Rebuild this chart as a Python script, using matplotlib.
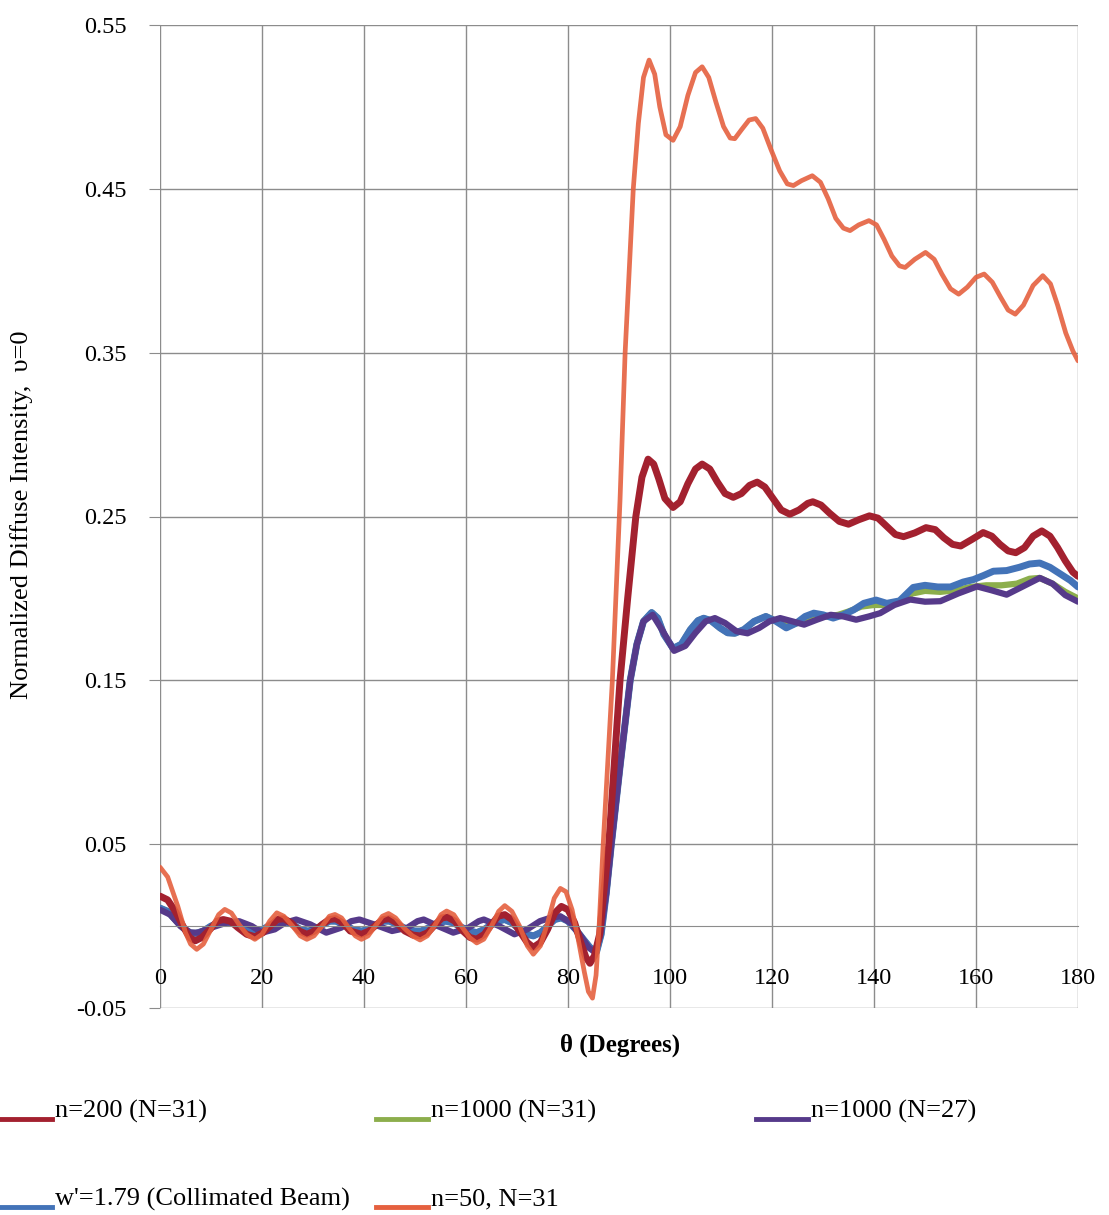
import matplotlib
matplotlib.use("Agg")
import matplotlib.pyplot as plt
from matplotlib.lines import Line2D

plt.rcParams['font.family'] = ['Liberation Serif', 'DejaVu Serif']

# theta (deg) / intensity
theta_n50 = [0, 1.5, 3.5, 5, 6, 7.2, 8.5, 10, 11.5, 12.7, 14, 15.5, 17, 18.6, 20, 21.5, 22.9, 24.3, 26, 27.5,
             28.8, 30.2, 31.8, 33.2, 34.3, 35.6, 37, 38.3, 39.5, 40.8, 42.2, 43.6, 44.8, 46.2, 47.8, 49.5, 51,
             52.4, 53.8, 55.1, 56.2, 57.6, 59.1, 60.7, 62.1, 63.5, 65, 66.4, 67.6, 69, 70.5, 72, 73.2, 74.6, 76,
             77.3, 78.5, 79.6, 80.8, 82, 83.2, 84, 84.8, 85.5, 86.1, 86.9, 88.7, 90.2, 91.2, 92.8, 93.8, 94.8,
             95.9, 97, 98, 99.2, 100.6, 102, 103.5, 105, 106.3, 107.6, 109, 110.5, 111.8, 112.7, 114, 115.5,
             116.8, 118.2, 119.8, 121.5, 123, 124.2, 125.8, 127.9, 129.5, 131, 132.5, 134, 135.3, 137, 139,
             140.5, 142, 143.5, 145, 146.1, 148, 150.1, 151.8, 153.3, 155, 156.6, 158.3, 160, 161.6, 163.2,
             164.8, 166.3, 167.7, 169.3, 171.2, 173.1, 174.6, 176, 177.6, 179, 180]
val_n50 = [0.036, 0.030, 0.012, -0.004, -0.011, -0.0142, -0.011, -0.002, 0.007, 0.0102, 0.008, 0.001, -0.005,
           -0.0081, -0.005, 0.003, 0.0081, 0.006, 0.000, -0.006, -0.0081, -0.006, 0.000, 0.006, 0.0071, 0.005,
           -0.001, -0.006, -0.0081, -0.006, 0.000, 0.006, 0.0077, 0.005, -0.001, -0.006, -0.0085, -0.006, 0.000,
           0.007, 0.0092, 0.007, 0.000, -0.007, -0.0103, -0.008, 0.000, 0.009, 0.0125, 0.009, 0.000, -0.012,
           -0.0172, -0.012, 0.002, 0.017, 0.023, 0.021, 0.010, -0.008, -0.028, -0.040, -0.044, -0.030, 0.000,
           0.05, 0.15, 0.26, 0.35, 0.45, 0.49, 0.518, 0.5286, 0.52, 0.50, 0.483, 0.4796, 0.488, 0.507, 0.521,
           0.5245, 0.518, 0.503, 0.488, 0.481, 0.4806, 0.486, 0.492, 0.4929, 0.487, 0.474, 0.461, 0.453, 0.452,
           0.455, 0.458, 0.454, 0.444, 0.432, 0.426, 0.4245, 0.428, 0.4306, 0.428, 0.419, 0.409, 0.403, 0.402,
           0.407, 0.4112, 0.407, 0.398, 0.389, 0.3857, 0.390, 0.396, 0.398, 0.393, 0.384, 0.376, 0.3735, 0.379,
           0.391, 0.397, 0.392, 0.379, 0.362, 0.351, 0.345]

theta_n200 = [0, 1.5, 3, 4.5, 5.8, 6.9, 8.2, 9.8, 11.2, 12.4, 13.8, 15.3, 17, 18.6, 20.2, 21.6, 23, 24.3, 25.7,
              27.3, 28.8, 30.3, 31.8, 33.2, 34.4, 35.8, 37.3, 39.5, 41, 42.5, 43.8, 45, 46.4, 48, 49.6, 51, 52.5,
              54, 55.3, 56.4, 57.8, 59.4, 60.8, 62.1, 63.6, 65, 66.3, 67.6, 69, 70.5, 72, 73.2, 74.6, 76, 77.4,
              78.7, 80, 81.3, 82.5, 83.5, 84.3, 85.2, 86.2, 87, 88, 89.1, 90.2, 91.7, 93.3, 94.5, 95.7, 96.8,
              97.8, 99, 100.6, 102, 103.5, 105, 106.3, 107.8, 109.3, 110.8, 112.4, 114, 115.6, 117.1, 118.6,
              120.2, 121.8, 123.5, 125.3, 127, 128, 129.6, 131.3, 133.2, 135, 137, 139.1, 140.8, 142.5, 144.2,
              145.8, 148, 150.2, 152, 153.7, 155.4, 157, 159.2, 161.4, 163.1, 164.7, 166.3, 167.8, 169.5, 171.2,
              172.9, 174.5, 176, 177.5, 179, 180]
val_n200 = [0.0183, 0.016, 0.009, 0.000, -0.007, -0.009, -0.007, -0.002, 0.003, 0.004, 0.003, -0.001, -0.005,
            -0.0065, -0.004, 0.000, 0.004, 0.0045, 0.002, -0.003, -0.005, -0.003, 0.001, 0.004, 0.0045, 0.002,
            -0.003, -0.005, -0.003, 0.001, 0.004, 0.0045, 0.002, -0.003, -0.0055, -0.006, -0.004, 0.001, 0.005,
            0.0055, 0.003, -0.003, -0.007, -0.008, -0.005, 0.001, 0.006, 0.007, 0.004, -0.003, -0.010, -0.013,
            -0.010, -0.002, 0.008, 0.012, 0.010, 0.002, -0.010, -0.019, -0.0227, -0.018, -0.005, 0.02, 0.05,
            0.10, 0.15, 0.20, 0.25, 0.274, 0.285, 0.282, 0.273, 0.261, 0.2555, 0.259, 0.270, 0.279, 0.282,
            0.279, 0.271, 0.264, 0.2617, 0.264, 0.269, 0.271, 0.268, 0.261, 0.254, 0.2514, 0.254, 0.258, 0.259,
            0.257, 0.252, 0.247, 0.2453, 0.248, 0.2504, 0.249, 0.244, 0.239, 0.2377, 0.240, 0.2432, 0.242,
            0.237, 0.233, 0.232, 0.236, 0.2402, 0.238, 0.233, 0.229, 0.2279, 0.231, 0.238, 0.2412, 0.238, 0.231,
            0.223, 0.216, 0.2135]

theta_beam = [0, 1.5, 3, 4.5, 5.8, 7, 8.5, 10, 11.5, 12.7, 14, 15.5, 17, 18.6, 20.2, 21.8, 23.3, 24.5, 26,
              27.5, 29, 30.5, 32, 33.3, 34.5, 36, 37.8, 39.5, 41, 42.5, 43.8, 45, 46.5, 48.5, 50, 51.2, 52.8,
              54.5, 56, 57.5, 59.3, 60.8, 62.1, 63.6, 65, 66.3, 67.6, 69, 70.5, 72, 73.2, 74.6, 76, 77.4, 78.7,
              80, 81.5, 83, 84.3, 85.6, 86.5, 87.5, 88.5, 90.3, 92.2, 93.5, 94.8, 96.4, 97.6, 98.8, 100.6,
              102.2, 104, 105.5, 106.6, 108, 109.8, 111.3, 112.7, 114.5, 116.5, 118.8, 120.8, 122.8, 124.8,
              126.5, 128.2, 130, 132, 134, 136, 138, 140.4, 142.5, 145, 147.7, 150, 152.5, 155, 157.5, 159.5,
              161.5, 163.4, 166, 168.5, 170.5, 172.5, 174.5, 176.5, 178.5, 180]
val_beam = [0.011, 0.009, 0.004, -0.001, -0.004, -0.0045, -0.003, 0.000, 0.002, 0.0025, 0.002, 0.000, -0.002,
            -0.003, -0.002, 0.001, 0.003, 0.003, 0.001, -0.002, -0.003, -0.002, 0.001, 0.003, 0.003, 0.001,
            -0.002, -0.003, -0.002, 0.001, 0.003, 0.003, 0.001, -0.002, -0.003, -0.003, -0.001, 0.002, 0.003,
            0.002, -0.001, -0.003, -0.004, -0.002, 0.001, 0.003, 0.004, 0.002, -0.002, -0.005, -0.006, -0.004,
            0.000, 0.004, 0.005, 0.003, -0.002, -0.008, -0.013, -0.0157, -0.005, 0.02, 0.05, 0.10, 0.15, 0.172,
            0.186, 0.1914, 0.188, 0.178, 0.1695, 0.172, 0.181, 0.1865, 0.1879, 0.1865, 0.182, 0.179, 0.1787,
            0.181, 0.186, 0.189, 0.186, 0.182, 0.185, 0.189, 0.191, 0.190, 0.188, 0.190, 0.193, 0.197, 0.199,
            0.197, 0.1985, 0.2067, 0.208, 0.207, 0.207, 0.210, 0.2115, 0.214, 0.2166, 0.217, 0.219, 0.221,
            0.2216, 0.219, 0.215, 0.211, 0.207]

theta_n1000_27 = [0, 2, 4, 6, 7.5, 10, 13, 15.5, 18, 20, 22.5, 24.5, 26.7, 29.5, 32.6, 35.5, 37.5, 39.1, 42,
                  45.5, 48.5, 50.5, 51.7, 54.5, 57.5, 60.5, 62.5, 63.5, 66.5, 69.5, 72, 74.5, 76.5, 78.5, 80.5,
                  82.5, 84, 85.3, 86.3, 87.5, 88.5, 90.3, 92.2, 93.5, 94.8, 96.6, 98.6, 100.8, 103, 105, 107,
                  108.8, 110.8, 113, 115.2, 117.5, 119.5, 121.6, 124, 126.3, 128.8, 131.5, 134, 136.5, 139, 141.2,
                  144, 147.1, 150, 153, 156.5, 160.2, 163, 166, 169, 172.5, 175, 177.5, 180]
val_n1000_27 = [0.010, 0.007, 0.000, -0.004, -0.004, -0.001, 0.002, 0.003, 0.000, -0.004, -0.002, 0.002, 0.004,
                0.001, -0.004, -0.001, 0.003, 0.004, 0.001, -0.003, -0.001, 0.003, 0.004, 0.000, -0.004, -0.001,
                0.003, 0.004, 0.000, -0.005, -0.002, 0.003, 0.005, 0.006, 0.002, -0.006, -0.013, -0.016, -0.006,
                0.02, 0.05, 0.10, 0.15, 0.172, 0.186, 0.190, 0.180, 0.168, 0.171, 0.179, 0.186, 0.188, 0.185,
                0.180, 0.1787, 0.182, 0.186, 0.188, 0.186, 0.184, 0.187, 0.190, 0.189, 0.187, 0.189, 0.191, 0.196,
                0.1993, 0.198, 0.1983, 0.203, 0.2073, 0.205, 0.2023, 0.207, 0.2125, 0.209, 0.202, 0.198]

# n=1000 (N=31) lies under the beam curve up to ~118 deg
theta_n1000_31_tail = [121, 123, 125, 127, 129, 131, 133, 135, 137.5, 140, 142.5, 145, 147.5, 150, 153, 156,
                       159, 162, 165, 168, 170.5, 172.5, 175, 177.5, 180]
val_n1000_31_tail = [0.186, 0.183, 0.185, 0.188, 0.189, 0.189, 0.190, 0.192, 0.195, 0.196, 0.196, 0.198, 0.203,
                     0.2046, 0.204, 0.205, 0.207, 0.208, 0.208, 0.209, 0.212, 0.2125, 0.209, 0.204, 0.200]
k = theta_beam.index(118.8) + 1
theta_n1000_31 = theta_beam[:k] + theta_n1000_31_tail
val_n1000_31 = val_beam[:k] + val_n1000_31_tail

W, H = 1109, 1215
fig = plt.figure(figsize=(W / 100, H / 100), dpi=100)
ax = fig.add_axes([160 / W, 1 - 1008 / H, 918 / W, 983 / H])

c_red = '#A3212F'
c_green = '#8CAE4C'
c_purple = '#563A8A'
c_blue = '#4373B8'
c_orange = '#E5603F'

style = dict(solid_capstyle='round', solid_joinstyle='round')
ax.plot(theta_n1000_31, val_n1000_31, color=c_green, lw=4.5, **style)
ax.plot(theta_beam, val_beam, color=c_blue, lw=5, **style)
ax.plot(theta_n1000_27, val_n1000_27, color=c_purple, lw=4.5, **style)
ax.plot(theta_n200, val_n200, color=c_red, lw=5, **style)
ax.plot(theta_n50, val_n50, color=c_orange, lw=3.4, alpha=0.9, **style)

ax.set_xlim(0, 180)
ax.set_ylim(-0.05, 0.55)
ax.set_xticks(range(0, 181, 20))
yt = [-0.05, 0.05, 0.15, 0.25, 0.35, 0.45, 0.55]
ax.set_yticks(yt)
ax.set_yticklabels(['%.2f' % v for v in yt])
ax.grid(True, color='#8c8c8c', lw=1.0)
ax.set_axisbelow(True)
for s in ['top', 'right', 'left']:
    ax.spines[s].set_visible(False)
ax.spines['bottom'].set_position(('data', 0))
ax.spines['bottom'].set_color('#8c8c8c')
ax.tick_params(axis='x', length=0, pad=30, labelsize=17.5)
ax.tick_params(axis='y', length=8, color='#8c8c8c', pad=16, labelsize=17.5)

fig.text(22 / W, 1 - 515 / H, 'Normalized Diffuse Intensity,  \u03c5=0', rotation=90,
         ha='center', va='center', fontsize=19)
fig.text(620 / W, 1 - 1045 / H, '\u03b8 (Degrees)', ha='center', va='center',
         fontsize=18, fontweight='bold')

# legend laid out by hand, as in the picture
legend_items = [(c_red, 'n=200 (N=31)', 0, 1111),
                (c_green, 'n=1000 (N=31)', 376, 1111),
                (c_purple, 'n=1000 (N=27)', 756, 1111),
                (c_blue, "w'=1.79 (Collimated Beam)", 0, 1199),
                (c_orange, 'n=50, N=31', 376, 1199)]
for col, lab, x0, yc in legend_items:
    fig.add_artist(Line2D([x0 / W, (x0 + 52) / W], [1 - (yc + 8) / H] * 2, color=col, lw=3.5))
    fig.text((x0 + 55) / W, 1 - yc / H, lab, ha='left', va='center', fontsize=19)

fig.savefig('out.png', dpi=100, facecolor='white')
